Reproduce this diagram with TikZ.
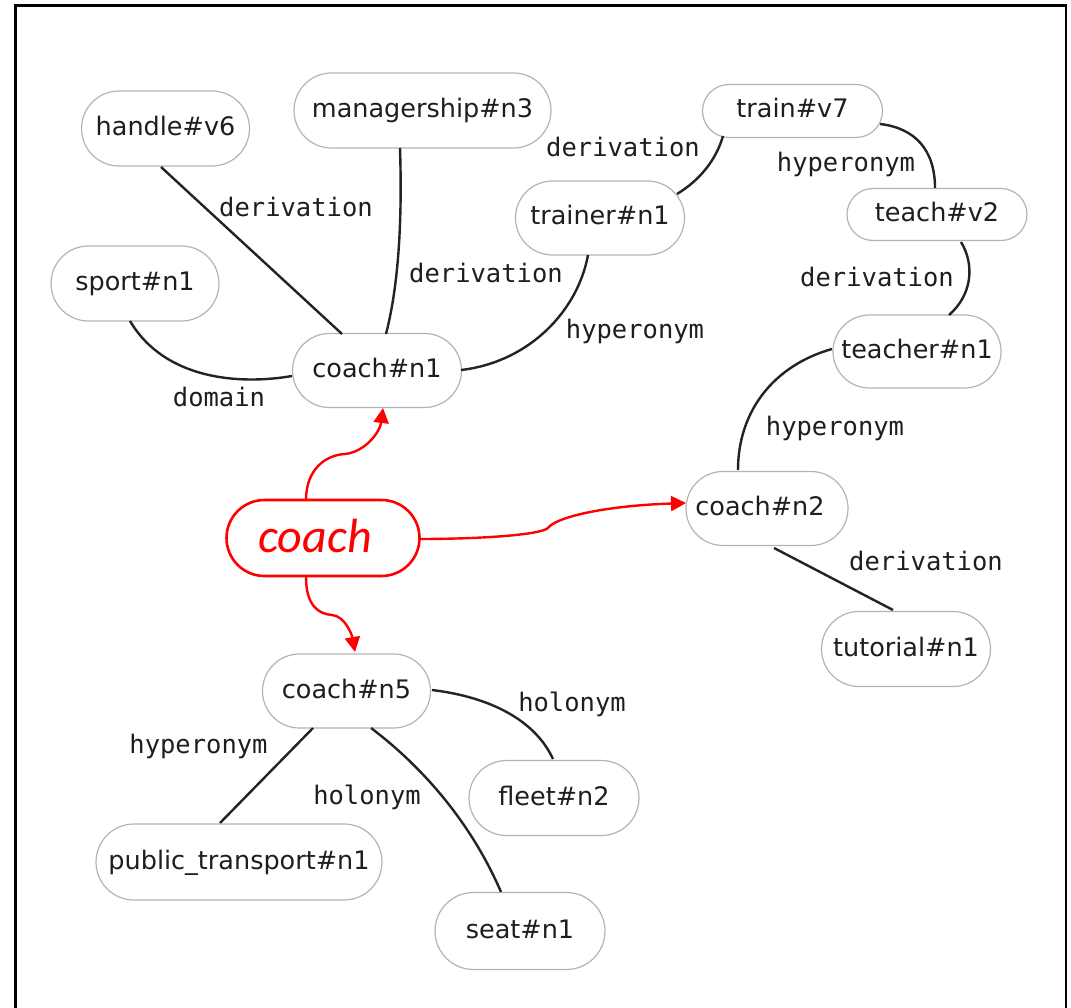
\documentclass[tikz,border=0pt]{standalone}
\usepackage{fontspec}
\newfontfamily\nodefont{DejaVu Sans}
\newfontfamily\lblfont{DejaVu Sans Mono}
\newfontfamily\calfont{Carlito}
\usetikzlibrary{arrows.meta,calc,shapes.misc}
\definecolor{boxgray}{RGB}{180,180,180}
\definecolor{txt}{RGB}{30,30,30}
\definecolor{edgec}{RGB}{35,35,35}
\definecolor{redc}{RGB}{255,0,0}
\begin{document}
\begin{tikzpicture}[x=1pt,y=-1pt,
  wn/.style={rounded rectangle, rounded rectangle arc length=180, draw=boxgray, line width=1.2pt, fill=white,
    font=\nodefont\fontsize{25.5}{30}\selectfont, text=txt,
    text height=19pt, text depth=5pt, inner sep=0pt, minimum height=75pt},
  lbl/.style={font=\lblfont\fontsize{25.5}{30}\selectfont, text=txt, anchor=base, inner sep=0pt},
  rel/.style={draw=edgec, line width=2.4pt},
  redarrow/.style={draw=redc, line width=2.4pt, -{Triangle[length=15pt,width=15pt]}},
  query/.style={rounded rectangle, rounded rectangle arc length=180, draw=redc, line width=2.6pt, fill=white,
    font=\calfont\itshape\fontsize{48}{56}\selectfont, text=redc,
    text height=32pt, text depth=3pt, inner sep=0pt, minimum width=193pt, minimum height=76pt}
]
\useasboundingbox (0,0) rectangle (1071,1008);
\fill[white] (0,0) rectangle (1071,1008);
\draw[line width=2.5pt] (15.5,1020) -- (15.5,5.5) -- (1066,5.5) -- (1066,1020);

% nodes
\node[wn, minimum width=168pt] (handle) at (165.5,128.5) {handle\#v6};
\node[wn, minimum width=257pt] (manager) at (422.5,110.5) {managership\#n3};
\node[wn, minimum width=168pt] (sport) at (135,283.5) {sport\#n1};
\node[wn, minimum width=169pt, minimum height=74pt] (c1) at (377,370.5) {coach\#n1};
\node[wn, minimum width=169pt, minimum height=74pt] (trainer) at (600,218) {trainer\#n1};
\node[wn, minimum width=180pt, minimum height=53pt] (train) at (792.5,111) {train\#v7};
\node[wn, minimum width=180pt, minimum height=52pt] (teach) at (937,214.5) {teach\#v2};
\node[wn, minimum width=168pt, minimum height=73pt] (teacher) at (917,351.5) {teacher\#n1};
\node[wn, minimum width=162pt, minimum height=74pt] (c2) at (767,508.5) {\hspace*{-14pt}coach\#n2};
\node[wn, minimum width=169pt] (tutorial) at (906,649) {tutorial\#n1};
\node[query] (coach) at (323,538) {\hspace*{-16pt}coach};
\node[wn, minimum width=168pt, minimum height=74pt] (c5) at (346.5,691) {coach\#n5};
\node[wn, minimum width=170pt] (fleet) at (554,798) {fleet\#n2};
\node[wn, minimum width=286pt, minimum height=76pt] (public) at (239,862) {public\_transport\#n1};
\node[wn, minimum width=170pt, minimum height=77pt] (seat) at (520,931) {seat\#n1};

% relations
\draw[rel] ($(handle)+(-4.5,38.5)$) -- ($(c1)+(-35,-36.5)$);
\draw[rel] ($(manager)+(-22.5,37.5)$) .. controls (402,210) and (400,280) .. ($(c1)+(9,-36.5)$);
\draw[rel] ($(sport)+(-5,37.5)$) .. controls (165,380) and (240,385) .. ($(c1)+(-85,5.5)$);
\draw[rel] ($(c1)+(84,-0.5)$) .. controls (530,362) and (578,310) .. ($(trainer)+(-12,37)$);
\draw[rel] ($(trainer)+(77,-24)$) .. controls (700,180) and (716,160) .. ($(train)+(-69.5,25)$);
\draw[rel] ($(train)+(87.5,13)$) .. controls (915,128) and (935,150) .. ($(teach)+(-2,-26.5)$);
\draw[rel] ($(teach)+(24,27.5)$) .. controls (975,265) and (972,295) .. ($(teacher)+(32,-36.5)$);
\draw[rel] ($(teacher)+(-85,-2.5)$) .. controls (775,365) and (738,410) .. ($(c2)+(-29,-38.5)$);
\draw[rel] ($(c2)+(7,39.5)$) -- ($(tutorial)+(-13,-39)$);
\draw[rel] ($(c5)+(-33.5,37)$) -- ($(public)+(-19,-39)$);
\draw[rel] ($(c5)+(24.5,37)$) .. controls (420,765) and (470,820) .. ($(seat)+(-19,-39)$);
\draw[rel] ($(c5)+(85.5,-1)$) .. controls (490,697) and (535,720) .. ($(fleet)+(-1,-39)$);

% relation labels
\node[lbl] (l1) at (296,217) {derivation};
\node[lbl] (l2) at (486,282.5) {derivation};
\node[lbl] (l3) at (219,406.5) {domain};
\node[lbl] (l4) at (623,156.5) {derivation};
\node[lbl] (l5) at (635,338) {hyperonym};
\node[lbl] (l6) at (846,171.5) {hyperonym};
\node[lbl] (l7) at (877,287) {derivation};
\node[lbl] (l8) at (835,435.5) {hyperonym};
\node[lbl] (l9) at (926,570.5) {derivation};
\node[lbl] (l10) at (572,711.5) {holonym};
\node[lbl] (l11) at (198.5,753) {hyperonym};
\node[lbl] (l12) at (367,804) {holonym};

% query arrows
\draw[redarrow] ($(coach)+(-17,-38)$) .. controls (306,470) and (325,455) .. (345,454)
  .. controls (365,452) and (380,432) .. ($(c1)+(6,37.5)$);
\draw[redarrow] ($(coach)+(-17,39)$) .. controls (306,605) and (318,614) .. (332,615)
  .. controls (345,616) and (352,635) .. ($(c5)+(8.5,-39)$);
\draw[redarrow] ($(coach)+(96,1)$) .. controls (480,539) and (540,535) .. (548,528)
  .. controls (555,518) and (600,506) .. ($(c2)+(-81,-5.5)$);
\end{tikzpicture}
\end{document}
